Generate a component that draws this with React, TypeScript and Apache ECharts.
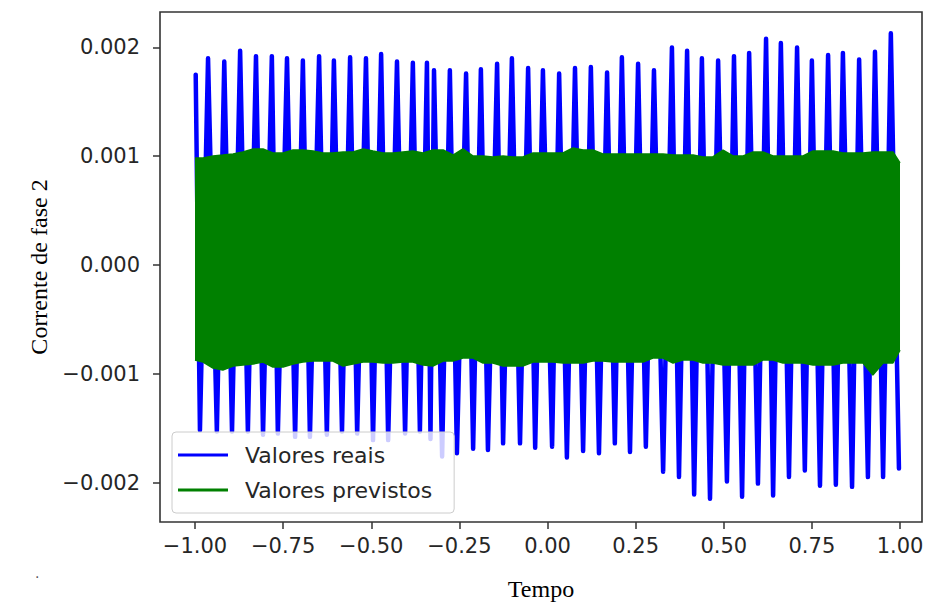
import { useEffect, useRef } from "react";
import * as echarts from "echarts";

// Blue series (Valores reais): peaks
const topTimes = [-0.998,-0.963,-0.917,-0.872,-0.827,-0.782,-0.739,-0.694,-0.648,-0.606,-0.560,-0.515,-0.472,-0.427,-0.382,-0.342,-0.322,-0.277,-0.231,-0.189,-0.143,-0.101,-0.055,-0.013,0.033,0.078,0.123,0.169,0.211,0.257,0.302,0.353,0.396,0.438,0.484,0.529,0.572,0.620,0.662,0.708,0.750,0.796,0.838,0.884,0.929,0.974];
const topValues = [0.00175,0.00190,0.00187,0.00197,0.00192,0.00192,0.00190,0.00188,0.00192,0.00188,0.00191,0.00190,0.00194,0.00187,0.00186,0.00186,0.00179,0.00179,0.00176,0.00180,0.00185,0.00190,0.00181,0.00179,0.00176,0.00181,0.00182,0.00177,0.00191,0.00185,0.00179,0.00200,0.00197,0.00190,0.00188,0.00192,0.00195,0.00208,0.00204,0.00200,0.00188,0.00193,0.00195,0.00189,0.00196,0.00213];
const bottomTimes = [-0.986,-0.938,-0.895,-0.850,-0.807,-0.765,-0.716,-0.674,-0.626,-0.583,-0.540,-0.495,-0.452,-0.404,-0.362,-0.332,-0.299,-0.257,-0.211,-0.169,-0.126,-0.078,-0.035,0.013,0.055,0.101,0.146,0.191,0.234,0.279,0.328,0.373,0.416,0.461,0.509,0.552,0.597,0.640,0.685,0.730,0.773,0.818,0.864,0.909,0.952,0.997];
const bottomValues = [-0.00152,-0.00153,-0.00153,-0.00153,-0.00156,-0.00155,-0.00158,-0.00158,-0.00156,-0.00153,-0.00155,-0.00161,-0.00161,-0.00155,-0.00153,-0.00160,-0.00176,-0.00173,-0.00169,-0.00170,-0.00164,-0.00164,-0.00168,-0.00167,-0.00177,-0.00171,-0.00173,-0.00164,-0.00172,-0.00167,-0.00190,-0.00195,-0.00211,-0.00215,-0.00199,-0.00213,-0.00201,-0.00212,-0.00195,-0.00189,-0.00203,-0.00202,-0.00204,-0.00195,-0.00195,-0.00187];

// Green series (Valores previstos): upper and lower envelope
const greenTimes = [-1.000,-0.977,-0.949,-0.921,-0.892,-0.864,-0.835,-0.807,-0.779,-0.750,-0.722,-0.694,-0.665,-0.637,-0.609,-0.580,-0.552,-0.523,-0.495,-0.467,-0.438,-0.410,-0.382,-0.353,-0.325,-0.296,-0.268,-0.240,-0.211,-0.183,-0.155,-0.126,-0.098,-0.070,-0.041,-0.013,0.016,0.044,0.072,0.101,0.129,0.157,0.186,0.214,0.243,0.271,0.299,0.328,0.356,0.384,0.413,0.441,0.469,0.498,0.526,0.555,0.583,0.611,0.640,0.668,0.696,0.725,0.753,0.782,0.810,0.838,0.867,0.895,0.923,0.952,0.980,1.000];
const greenUpper = [0.000984,0.000984,0.001002,0.001011,0.001021,0.001039,0.001067,0.001067,0.001030,0.001030,0.001057,0.001057,0.001048,0.001030,0.001030,0.001039,0.001039,0.001067,0.001048,0.001030,0.001030,0.001039,0.001048,0.001030,0.001057,0.001057,0.001011,0.001067,0.001002,0.001002,0.000993,0.001002,0.000993,0.000993,0.001030,0.001030,0.001030,0.001030,0.001076,0.001057,0.001057,0.001021,0.001021,0.001021,0.001021,0.001021,0.001021,0.001021,0.001011,0.001011,0.001011,0.000993,0.000993,0.001057,0.001002,0.001002,0.001039,0.001039,0.001002,0.001002,0.001002,0.001002,0.001048,0.001048,0.001048,0.001030,0.001030,0.001030,0.001039,0.001039,0.001039,0.000938];
const greenLower = [-0.000874,-0.000892,-0.000947,-0.000966,-0.000929,-0.000920,-0.000910,-0.000892,-0.000938,-0.000938,-0.000910,-0.000892,-0.000883,-0.000883,-0.000883,-0.000929,-0.000910,-0.000892,-0.000892,-0.000901,-0.000901,-0.000892,-0.000892,-0.000920,-0.000929,-0.000883,-0.000883,-0.000855,-0.000855,-0.000901,-0.000901,-0.000929,-0.000929,-0.000929,-0.000892,-0.000892,-0.000892,-0.000901,-0.000901,-0.000901,-0.000883,-0.000883,-0.000892,-0.000892,-0.000892,-0.000892,-0.000855,-0.000855,-0.000901,-0.000874,-0.000874,-0.000901,-0.000901,-0.000920,-0.000920,-0.000920,-0.000920,-0.000874,-0.000874,-0.000901,-0.000901,-0.000901,-0.000920,-0.000920,-0.000920,-0.000901,-0.000901,-0.000901,-0.001011,-0.000901,-0.000901,-0.000782];

const xTicks = [-1, -0.75, -0.5, -0.25, 0, 0.25, 0.5, 0.75, 1];
const yTicks = [-0.002, -0.001, 0, 0.001, 0.002];

const BLUE = "#0000ff";
const GREEN = "#008000";
const fmt = (v: number, d: number) => (v < 0 ? "\u2212" + Math.abs(v).toFixed(d) : v.toFixed(d));

export default function App() {
  const ref = useRef<HTMLDivElement>(null);
  useEffect(() => {
    if (!ref.current) return;
    const chart = echarts.init(ref.current, null, { renderer: "svg" });
    const bluePts: [number, number][] = [];
    topTimes.forEach((t, i) => bluePts.push([t, topValues[i]]));
    bottomTimes.forEach((t, i) => bluePts.push([t, bottomValues[i]]));
    bluePts.sort((a, b) => a[0] - b[0]);
    const upper = greenTimes.map((t, i) => [t, greenUpper[i]]);
    const lower = greenTimes.map((t, i) => [t, greenLower[i]]);
    const tickFont = { fontFamily: "DejaVu Sans", fontSize: 21, color: "#262626" };
    const nameFont = { fontFamily: "Liberation Serif", fontSize: 24, color: "#000" };
    chart.setOption({
      animation: false,
      backgroundColor: "#fff",
      grid: { left: 160, top: 12, width: 762, height: 510, show: true, borderColor: "#333", borderWidth: 1.6, backgroundColor: "transparent" },
      legend: {
        left: 172, top: 432, orient: "vertical",
        padding: [12, 22, 12, 6], itemGap: 13,
        itemWidth: 50, itemHeight: 3,
        backgroundColor: "rgba(255,255,255,0.8)", borderColor: "#cccccc", borderWidth: 1, borderRadius: 4,
        textStyle: { fontFamily: "DejaVu Sans", fontSize: 22, color: "#262626", padding: [0, 0, 0, 12] },
        data: [
          { name: "Valores reais", icon: "rect", itemStyle: { color: BLUE } },
          { name: "Valores previstos", icon: "rect", itemStyle: { color: GREEN } },
        ],
      },
      xAxis: {
        type: "value", min: -1.0993, max: 1.0624,
        name: "Tempo", nameLocation: "middle", nameGap: 55, nameTextStyle: nameFont,
        axisLine: { show: false, onZero: false },
        axisTick: { show: true, length: 7, lineStyle: { color: "#333", width: 1.5 }, customValues: xTicks },
        axisLabel: { ...tickFont, margin: 13, customValues: xTicks, formatter: (v: number) => fmt(v, 2) },
        splitLine: { show: false },
      },
      yAxis: {
        type: "value", min: -0.002363, max: 0.002326,
        name: "Corrente de fase 2", nameLocation: "middle", nameGap: 107, nameTextStyle: nameFont,
        axisLine: { show: false, onZero: false },
        axisTick: { show: true, length: 7, lineStyle: { color: "#333", width: 1.5 }, customValues: yTicks },
        axisLabel: { ...tickFont, margin: 20, customValues: yTicks, formatter: (v: number) => fmt(v, 3) },
        splitLine: { show: false },
      },
      series: [
        {
          name: "Valores reais", type: "line", data: bluePts, showSymbol: false, symbol: "none",
          lineStyle: { color: BLUE, width: 4.5, join: "round", cap: "round" }, itemStyle: { color: BLUE }, z: 2,
        },
        {
          name: "Valores previstos", type: "line", data: upper, showSymbol: false, symbol: "none",
          lineStyle: { color: GREEN, width: 1.5 }, itemStyle: { color: GREEN },
          areaStyle: { color: GREEN, opacity: 1, origin: -0.00005 }, z: 3,
        },
        {
          name: "Valores previstos", type: "line", data: lower, showSymbol: false, symbol: "none",
          lineStyle: { color: GREEN, width: 1.5 }, itemStyle: { color: GREEN },
          areaStyle: { color: GREEN, opacity: 1, origin: 0.00005 }, z: 3,
        },
      ],
      graphic: [
        { type: "text", left: 35, top: 566, style: { text: ".", fontSize: 14, fill: "#555", fontFamily: "DejaVu Sans" } },
      ],
    });
    return () => chart.dispose();
  }, []);
  return <div ref={ref} style={{ position: "absolute", left: 0, top: 0, width: 936, height: 607 }} />;
}
